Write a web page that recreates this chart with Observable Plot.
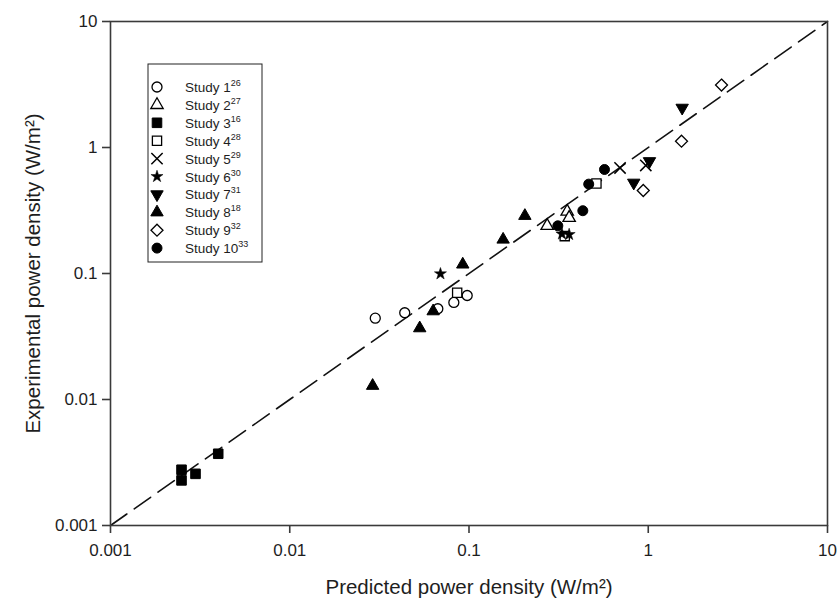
<!DOCTYPE html>
<html><head><meta charset="utf-8">
<script src="https://cdn.jsdelivr.net/npm/d3@7"></script>
<script src="https://cdn.jsdelivr.net/npm/@observablehq/plot@0.6"></script>
<style>
body{margin:0;background:#fff;font-family:"Liberation Sans",Arial,sans-serif}
#wrap{position:relative;width:839px;height:608px}
#legend{position:absolute;left:0;top:0;pointer-events:none}
</style>
</head><body><div id="wrap"></div>
<script>
// ---- data ----
const studyNames = ["Study 1","Study 2","Study 3","Study 4","Study 5","Study 6","Study 7","Study 8","Study 9","Study 10"];
const studyRefs  = ["26","27","16","28","29","30","31","18","32","33"];

const s1x = [0.0300, 0.0438, 0.0670, 0.0823, 0.0977];
const s1y = [0.0442, 0.0488, 0.0525, 0.0589, 0.0669];
const s2x = [0.273, 0.353, 0.362];
const s2y = [0.239, 0.310, 0.277];
const s3x = [0.00399, 0.00249, 0.00249, 0.00298];
const s3y = [0.00371, 0.00277, 0.00228, 0.00257];
const s4x = [0.0859, 0.342, 0.514];
const s4y = [0.0703, 0.198, 0.518];
const s5x = [0.696, 0.969];
const s5y = [0.688, 0.720];
const s6x = [0.0693, 0.330, 0.362];
const s6y = [0.0994, 0.206, 0.204];
const s7x = [1.546, 1.016, 0.830];
const s7y = [2.065, 0.778, 0.525];
const s8x = [0.0290, 0.0531, 0.0631, 0.0923, 0.155, 0.205];
const s8y = [0.01285, 0.0368, 0.0502, 0.118, 0.186, 0.287];
const s9x = [0.938, 1.533, 2.563];
const s9y = [0.456, 1.122, 3.13];
const s10x = [0.313, 0.4315, 0.4655, 0.570];
const s10y = [0.239, 0.315, 0.512, 0.669];

const diagX = [0.001, 10];
const diagY = [0.001, 10];
const xTicks = [0.001, 0.01, 0.1, 1, 10];
const yTicks = [0.001, 0.01, 0.1, 1, 10];
const xTitle = "Predicted power density (W/m²)";
const yTitle = "Experimental power density (W/m²)";

// ---- symbols ----
const triangleDown = {
  draw(context, size) {
    const y = -Math.sqrt(size / (Math.sqrt(3) * 3));
    context.moveTo(0, -y * 2);
    context.lineTo(-Math.sqrt(3) * y, y);
    context.lineTo(Math.sqrt(3) * y, y);
    context.closePath();
  }
};
const ink = "#000";
const studies = [
  {x:s1x, y:s1y, symbol:"circle",   r:5.0, fill:"#fff", sw:1.3},
  {x:s2x, y:s2y, symbol:"triangle", r:4.6, fill:"#fff", sw:1.3},
  {x:s3x, y:s3y, symbol:"square",   r:5.4, fill:ink,    sw:1},
  {x:s4x, y:s4y, symbol:"square",   r:5.2, fill:"#fff", sw:1.3},
  {x:s5x, y:s5y, symbol:"times",    r:5.2, fill:"none", sw:1.5},
  {x:s6x, y:s6y, symbol:"star",     r:3.8, fill:ink,    sw:0.5},
  {x:s7x, y:s7y, symbol:triangleDown, r:4.6, fill:ink,  sw:1},
  {x:s8x, y:s8y, symbol:"triangle", r:4.6, fill:ink,    sw:1},
  {x:s9x, y:s9y, symbol:"diamond2", r:5.4, fill:"#fff", sw:1.3},
  {x:s10x,y:s10y,symbol:"circle",   r:5.0, fill:ink,    sw:1}
];

const axisColor = "#3a3a3a";
const textColor = "#1e1e1e";
const plot = Plot.plot({
  width: 839, height: 608,
  marginLeft: 110, marginRight: 12, marginTop: 21, marginBottom: 83,
  style: {fontFamily: '"Liberation Sans", Arial, sans-serif', background: "#fff", color: textColor},
  x: {type: "log", domain: [0.001, 10]},
  y: {type: "log", domain: [0.001, 10]},
  marks: [
    Plot.line(diagX.map((d, i) => ({x: d, y: diagY[i]})), {x: "x", y: "y", stroke: "#111", strokeWidth: 1.6, strokeDasharray: "20,9"}),
    ...studies.map(s => Plot.dot(s.x.map((x, i) => ({x, y: s.y[i]})), {
      x: "x", y: "y", symbol: s.symbol, r: s.r, fill: s.fill, stroke: ink, strokeWidth: s.sw
    })),
    Plot.frame({stroke: axisColor, strokeWidth: 1.6}),
    Plot.axisX({ticks: xTicks, tickSize: 8, tickPadding: 10, tickFormat: d => String(d), fontSize: 17, label: null, stroke: axisColor, strokeWidth: 1.6}),
    Plot.axisY({ticks: yTicks, tickSize: 8, tickPadding: 5, tickFormat: d => String(d), fontSize: 17, label: null, stroke: axisColor, strokeWidth: 1.6}),
    Plot.text([xTitle], {text: d => d, frameAnchor: "bottom", dy: 68, fontSize: 20.5, textAnchor: "middle"}),
    Plot.text([yTitle], {text: d => d, frameAnchor: "left", dx: -77, rotate: -90, fontSize: 20.5, textAnchor: "middle"})
  ]
});
const wrap = document.getElementById("wrap");
wrap.appendChild(plot);

// ---- legend overlay ----
const lg = d3.select(wrap).append("svg").attr("id", "legend").attr("width", 839).attr("height", 608);
const boxX = 148, boxY = 64, boxW = 114, boxH = 198;
lg.append("rect").attr("x", boxX).attr("y", boxY).attr("width", boxW).attr("height", boxH)
  .attr("fill", "#fff").attr("stroke", "#222").attr("stroke-width", 1);
const rowY0 = 87, rowStep = 17.9;
const symMap = {circle: d3.symbolCircle, triangle: d3.symbolTriangle, square: d3.symbolSquare,
  times: d3.symbolTimes, star: d3.symbolStar, diamond2: d3.symbolDiamond2};
studies.forEach((s, i) => {
  const cy = rowY0 + i * rowStep;
  const type = typeof s.symbol === "string" ? symMap[s.symbol] : s.symbol;
  lg.append("path").attr("d", d3.symbol(type, Math.PI * s.r * s.r)())
    .attr("transform", `translate(157,${cy})`)
    .attr("fill", s.fill).attr("stroke", ink).attr("stroke-width", s.sw);
  const t = lg.append("text").attr("x", 185).attr("y", cy + 5)
    .attr("font-size", 13.5).attr("font-family", '"Liberation Sans", Arial, sans-serif').attr("fill", textColor);
  t.append("tspan").text(studyNames[i]);
  t.append("tspan").attr("dy", -6).attr("font-size", 9).text(studyRefs[i]);
});
</script>
</body></html>
